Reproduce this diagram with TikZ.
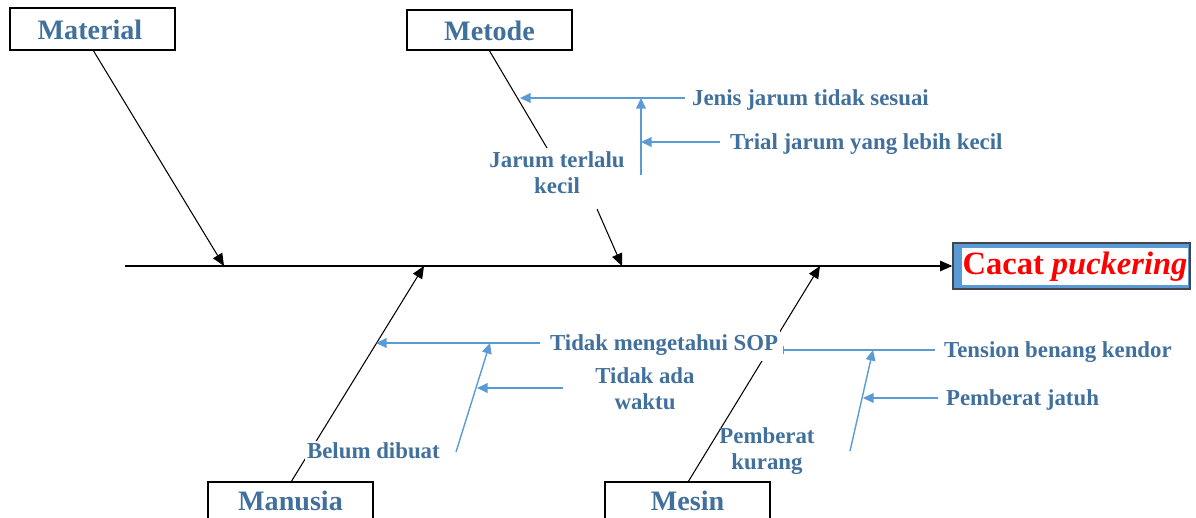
\documentclass[tikz,border=0pt]{standalone}
\usepackage{fontspec}
\setmainfont{Liberation Serif}
\usetikzlibrary{arrows.meta}
\definecolor{txtblue}{RGB}{65,112,156}
\definecolor{arrblue}{RGB}{91,155,213}
\definecolor{effblue}{RGB}{91,155,213}
\definecolor{effred}{RGB}{255,0,0}
\tikzset{
  bone/.style={draw=black, line width=0.6pt},
  bonearrow/.style={bone, -{Triangle[length=7pt,width=6pt]}},
  sub/.style={draw=arrblue, line width=0.8pt, -{Triangle[length=6pt,width=5.5pt]}},
  subline/.style={draw=arrblue, line width=0.8pt},
  lbl/.style={font=\bfseries\fontsize{13}{15}\selectfont, text=txtblue, inner sep=1pt, align=center},
  catbox/.style={draw=black, line width=0.6pt, fill=white, minimum width=3.3cm, inner sep=0pt},
  catlbl/.style={font=\bfseries\fontsize{16}{18}\selectfont, text=txtblue, inner sep=0pt},
}
\begin{document}
\begin{tikzpicture}[x=0.02cm,y=-0.02cm]
\useasboundingbox (0,0) rectangle (1196,517);
\clip (0,0) rectangle (1196,517);

% category boxes
\node[catbox, minimum height=0.84cm] (matbox) at (92.5,29) {};
\node[catlbl] (mat) at (90,30) {Material};
\node[catbox, minimum height=0.80cm] (metbox) at (489.5,30) {};
\node[catlbl] (met) at (489.5,31) {Metode};
\node[catbox, minimum height=1.0cm] (manbox) at (290.5,507) {};
\node[catlbl] (man) at (290.5,501) {Manusia};
\node[catbox, minimum height=1.0cm] (mesbox) at (687.5,507) {};
\node[catlbl] (mes) at (687.5,501) {Mesin};

% effect
\node[draw={rgb,255:red,64;green,70;blue,75}, line width=0.8pt, fill=effblue, minimum width=4.74cm, minimum height=0.92cm, inner sep=0pt] (eff) at (1071.5,266) {};
\node[fill=white, minimum width=4.52cm, minimum height=0.74cm, inner sep=0pt] (effin) at (1075,266.5) {};
\node[font=\bfseries\fontsize{18.5}{22}\selectfont, text=effred, inner sep=0pt] (efftxt) at (1075,267) {Cacat \textit{puckering}};

% spine
\coordinate (spL) at (125,266);
\draw[bonearrow] (spL) -- (eff.west);

% Material bone
\coordinate (matA) at (93,50);
\coordinate (matT) at (224,266);
\draw[bonearrow] (matA) -- (matT);

% Metode bone
\coordinate (metA) at (489,50);
\coordinate (metB) at (547,148);
\coordinate (metC) at (597,209);
\coordinate (metT) at (622,266);
\draw[bone] (metA) -- (metB);
\draw[bonearrow] (metC) -- (metT);
\node[lbl] (jarum) at (557,173) {Jarum terlalu\\kecil};

% Metode sub-branches
\node[lbl, anchor=west] (jenis) at (690,100) {Jenis jarum tidak sesuai};
\node[lbl, anchor=west] (trial) at (728,144) {Trial jarum yang lebih kecil};
\coordinate (jenisT) at (520,98);
\coordinate (jenisS) at (685,98);
\draw[sub] (jenisS) -- (jenisT);
\coordinate (vB) at (641,175);
\coordinate (vT) at (641,98);
\draw[sub] (vB) -- (vT);
\coordinate (trialS) at (720,142);
\coordinate (trialT) at (641,142);
\draw[sub] (trialS) -- (trialT);

% Manusia bone
\coordinate (manA) at (291,482);
\coordinate (manT) at (424,266);
\draw[bonearrow] (manA) -- (manT);
\node[lbl, fill=white, anchor=west] (belum) at (305,451) {Belum dibuat};

% Mesin bone
\coordinate (mesA) at (688,482);
\coordinate (mesT) at (820,266);
\draw[bonearrow] (mesA) -- (mesT);

% Manusia sub-branches
\coordinate (sopS) at (540,343);
\coordinate (sopT) at (376,343);
\draw[sub] (sopS) -- (sopT);
\coordinate (slB) at (456,452);
\coordinate (slT) at (490,343);
\draw[sub] (slB) -- (slT);
\coordinate (wakS) at (563,388);
\coordinate (wakT) at (477,388);
\draw[sub] (wakS) -- (wakT);
\node[lbl] (waktu) at (645,389) {Tidak ada\\waktu};

% Mesin sub-branches
\coordinate (tenS) at (935,350);
\coordinate (tenT) at (783,350);
\draw[subline, -{Bar[width=5pt,line width=0.5pt]}] (tenS) -- (tenT);
\node[lbl, fill=white, anchor=west, inner ysep=3pt] (sop) at (548,345) {Tidak mengetahui SOP};
\node[lbl, anchor=west] (tension) at (942,352) {Tension benang kendor};
\coordinate (sl2B) at (850,451);
\coordinate (sl2T) at (873,350);
\draw[sub] (sl2B) -- (sl2T);
\coordinate (jatS) at (938,398);
\coordinate (jatT) at (863,398);
\draw[sub] (jatS) -- (jatT);
\node[lbl, anchor=west] (jatuh) at (944,400) {Pemberat jatuh};
\node[lbl] (kurang) at (767,451) {Pemberat\\kurang};
\end{tikzpicture}
\end{document}
